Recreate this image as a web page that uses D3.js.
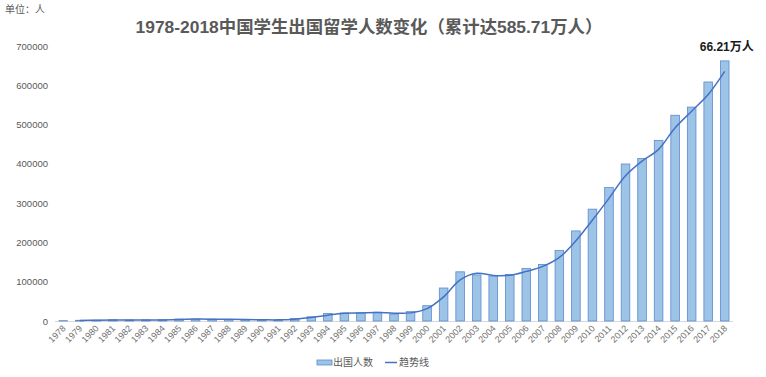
<!DOCTYPE html>
<html>
<head>
<meta charset="utf-8">
<script src="https://cdn.jsdelivr.net/npm/d3@7"></script>
<style>
body { margin: 0; background: #fff; }
svg text { font-family: "Liberation Sans", "Noto Sans CJK SC", sans-serif; }
</style>
</head>
<body>
<div id="container"></div>
<script>
var years = ['1978','1979','1980','1981','1982','1983','1984','1985','1986','1987','1988','1989','1990',
	'1991','1992','1993','1994','1995','1996','1997','1998','1999','2000','2001','2002','2003','2004',
	'2005','2006','2007','2008','2009','2010','2011','2012','2013','2014','2015','2016','2017','2018'];

var students = [860, 1777, 2124, 2922, 2326, 2633, 3073, 4888, 4676, 4703, 3786, 3329, 2950,
	2900, 6540, 10742, 19071, 20381, 20905, 22410, 17622, 23749, 38989, 83973, 125179, 117307, 114682,
	118515, 134000, 144000, 179800, 229300, 284700, 339700, 399600, 413900, 459800, 523700, 544500, 608400, 662100];

// trend line (starts at 1979)
var trendYears = years.slice(1);
var trend = [1319, 1951, 2523, 2624, 2480, 2853, 3981, 4782, 4690, 4245, 3558, 3140,
	2925, 4720, 8641, 14907, 19726, 20643, 21658, 20016, 20686, 31369, 61481, 104576, 121243, 115995,
	116599, 126258, 139000, 161900, 204550, 257000, 312200, 369650, 406750, 436850, 491750, 534100, 576450, 635250];

var yTicks = [0, 100000, 200000, 300000, 400000, 500000, 600000, 700000];

var width = 766,
	height = 377;

var margin = { top: 46, right: 33, bottom: 56, left: 55 };

var canvas = d3.select('#container').append('svg')
	.attr('width', width)
	.attr('height', height);

var xScale = d3.scaleBand()
	.domain(years)
	.range([margin.left, width - margin.right])
	.paddingInner(0.48)
	.paddingOuter(0.24);

var yScale = d3.scaleLinear()
	.domain([0, 700000])
	.range([height - margin.bottom, margin.top]);

// title
canvas.append('text')
	.attr('x', 369)
	.attr('y', 33)
	.attr('text-anchor', 'middle')
	.style('font-size', '17.4px')
	.style('font-weight', 'bold')
	.attr('fill', '#595959')
	.text('1978-2018中国学生出国留学人数变化（累计达585.71万人）');

canvas.append('text')
	.attr('x', 5)
	.attr('y', 13)
	.style('font-size', '10px')
	.attr('fill', '#595959')
	.text('单位：人');

// y axis labels
canvas.append('g')
	.selectAll('text')
	.data(yTicks)
	.enter()
		.append('text')
		.attr('x', 48)
		.attr('y', (d) => yScale(d) + 3.5)
		.attr('text-anchor', 'end')
		.style('font-size', '9.5px')
		.attr('fill', '#595959')
		.text((d) => d);

// baseline
canvas.append('line')
	.attr('x1', margin.left)
	.attr('x2', width - margin.right)
	.attr('y1', yScale(0) + 0.5)
	.attr('y2', yScale(0) + 0.5)
	.attr('stroke', '#d9d9d9');

// bars
canvas.append('g')
	.selectAll('rect')
	.data(years)
	.enter()
		.append('rect')
		.attr('x', (d) => xScale(d))
		.attr('width', xScale.bandwidth())
		.attr('y', (d, i) => yScale(students[i]))
		.attr('height', (d, i) => yScale(0) - yScale(students[i]))
		.attr('fill', '#9dc3e6')
		.attr('stroke', '#5b8bd0')
		.attr('stroke-width', 0.8);

// trend line
var line = d3.line()
	.x((d, i) => xScale(trendYears[i]) + xScale.bandwidth() / 2)
	.y((d) => yScale(d))
	.curve(d3.curveCatmullRom.alpha(0.5));

canvas.append('path')
	.datum(trend)
	.attr('d', line)
	.attr('fill', 'none')
	.attr('stroke', '#4472c4')
	.attr('stroke-width', 1.5);

// x labels
canvas.append('g')
	.selectAll('text')
	.data(years)
	.enter()
		.append('text')
		.attr('transform', (d) => 'translate(' + (xScale(d) + xScale.bandwidth() / 2 + 3) + ',' + (yScale(0) + 8) + ') rotate(-45)')
		.attr('text-anchor', 'end')
		.style('font-size', '9px')
		.attr('fill', '#707070')
		.text((d) => d);

// last value label
canvas.append('text')
	.attr('x', xScale('2018') + xScale.bandwidth() / 2 + 2)
	.attr('y', 51)
	.attr('text-anchor', 'middle')
	.style('font-size', '12px')
	.style('font-weight', 'bold')
	.attr('fill', '#1a1a1a')
	.text((students[students.length - 1] / 10000).toFixed(2) + '万人');

// legend
var legend = canvas.append('g');
legend.append('rect')
	.attr('x', 317)
	.attr('y', 360)
	.attr('width', 15)
	.attr('height', 5)
	.attr('fill', '#9dc3e6')
	.attr('stroke', '#5b8bd0')
	.attr('stroke-width', 0.8);
legend.append('text')
	.attr('x', 333)
	.attr('y', 366)
	.style('font-size', '10px')
	.attr('fill', '#595959')
	.text('出国人数');
legend.append('line')
	.attr('x1', 385)
	.attr('x2', 397)
	.attr('y1', 362.5)
	.attr('y2', 362.5)
	.attr('stroke', '#4472c4')
	.attr('stroke-width', 1.5);
legend.append('text')
	.attr('x', 399)
	.attr('y', 366)
	.style('font-size', '10px')
	.attr('fill', '#595959')
	.text('趋势线');
</script>
</body>
</html>
